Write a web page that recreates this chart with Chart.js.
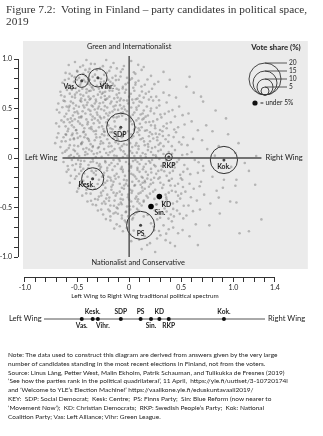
<!DOCTYPE html>
<html>
<head>
<meta charset="utf-8">
<script src="https://cdn.jsdelivr.net/npm/chart.js@4.4.1/dist/chart.umd.min.js"></script>
<style>
  body { margin: 0; background: #fff; }
  #wrap { position: relative; width: 323px; height: 436px; overflow: hidden; }
  #chart { position: absolute; left: 0; top: 0; }
  .title { position: absolute; left: 6px; top: 3px; font: 11.3px/12px "Liberation Serif", serif; color: #333; white-space: nowrap; }
  .note { position: absolute; left: 8px; top: 351px; font: 6.5px/8.8px Lato, sans-serif; color: #222; white-space: nowrap; }
</style>
</head>
<body>
<div id="wrap">
  <canvas id="chart" width="323" height="436"></canvas>
  <div class="title">Figure 7.2:&nbsp; Voting in Finland – party candidates in political space,<br>2019</div>
  <div class="note">
    Note: The data used to construct this diagram are derived from answers given by the very large<br>
    number of candidates standing in the most recent elections in Finland, not from the voters.<br>
    Source: Linus Lång, Petter West, Malin Ekholm, Patrik Schauman, and Tulikukka de Fresnes (2019)<br>
    ‘See how the parties rank in the political quadrilateral’, 11 April,&nbsp; https://yle.fi/uutiset/3-10720174l<br>
    and ‘Welcome to YLE’s Election Machine!’ https://vaalikone.yle.fi/eduskuntavaali2019/<br>
    KEY:&nbsp; SDP: Social Democrat;&nbsp; Kesk: Centre;&nbsp; PS: Finns Party;&nbsp; Sin: Blue Reform (now nearer to<br>
    ‘Movement Now’);&nbsp; KD: Christian Democrats;&nbsp; RKP: Swedish People’s Party;&nbsp; Kok: National<br>
    Coalition Party; Vas: Left Alliance; Vihr: Green League.
  </div>
</div>
<script>
// parties: position on left-right (x) and green/nationalist (y) axes, and vote share in %
const parties   = ['SDP', 'PS', 'Kok.', 'Kesk.', 'Vihr.', 'Vas.', 'RKP', 'KD', 'Sin.'];
const partyX    = [-0.08, 0.11, 0.91, -0.35, -0.30, -0.455, 0.38, 0.29, 0.21];
const partyY    = [0.31, -0.68, -0.02, -0.21, 0.81, 0.78, 0.01, -0.39, -0.49];
const voteShare = [17.7, 17.5, 17.0, 13.8, 11.5, 8.2, 4.5, 3.9, 1.0];
const smallParties = ['KD', 'Sin.'];

// legend sizes
const legendShares = [20, 15, 10, 5];

// axis tick labels
const xLabelValues = [-1, -0.5, 0, 0.5, 1, 1.4];
const xLabelText   = ['-1.0', '-0.5', '0', '0.5', '1.0', '1.4'];
const yLabelValues = [-1, -0.5, 0, 0.5, 1];
const yLabelText   = ['-1.0', '-0.5', '0', '0.5', '1.0'];

// individual candidates
const candidates = [
  [-0.52,0.97],[-0.41,0.99],[-0.33,0.95],[-0.47,0.92],[-0.28,0.91],[-0.15,0.96],[-0.05,0.93],[-0.38,0.90],[-0.58,0.94],[0.02,0.98],[-0.22,0.99],[0.14,0.92],
  [-0.61,0.86],[-0.55,0.83],[-0.50,0.88],[-0.44,0.85],[-0.39,0.87],[-0.35,0.82],[-0.31,0.89],[-0.24,0.84],[-0.19,0.88],[-0.13,0.83],[-0.08,0.87],[-0.02,0.81],[0.06,0.85],[0.12,0.89],[0.21,0.83],[-0.48,0.81],[-0.27,0.80],[-0.58,0.80],[0.33,0.87],[-0.16,0.81],[-0.42,0.89],
  [-0.64,0.76],[-0.59,0.72],[-0.53,0.77],[-0.49,0.73],[-0.45,0.70],[-0.40,0.75],[-0.36,0.72],[-0.33,0.78],[-0.26,0.74],[-0.22,0.71],[-0.18,0.77],[-0.14,0.73],[-0.10,0.79],[-0.06,0.72],[-0.01,0.76],[0.04,0.71],[0.09,0.78],[0.15,0.74],[0.22,0.70],[0.28,0.77],[0.39,0.79],[-0.55,0.70],[-0.29,0.70],[-0.20,0.79],[-0.50,0.79],[0.01,0.79],[-0.38,0.79],[0.55,0.72],
  [-0.66,0.67],[-0.62,0.62],[-0.57,0.65],[-0.52,0.61],[-0.48,0.68],[-0.44,0.63],[-0.41,0.66],[-0.37,0.60],[-0.34,0.69],[-0.30,0.64],[-0.27,0.61],[-0.23,0.67],[-0.19,0.62],[-0.16,0.68],[-0.12,0.64],[-0.08,0.60],[-0.04,0.66],[0.00,0.62],[0.05,0.68],[0.10,0.63],[0.14,0.61],[0.19,0.67],[0.26,0.62],[0.33,0.66],[0.45,0.61],[0.62,0.66],[-0.55,0.69],[-0.46,0.60],[-0.21,0.60],[-0.10,0.69],[0.08,0.60],
  [-0.68,0.55],[-0.63,0.58],[-0.60,0.52],[-0.56,0.57],[-0.51,0.53],[-0.47,0.58],[-0.43,0.51],[-0.40,0.56],[-0.36,0.53],[-0.32,0.59],[-0.29,0.52],[-0.25,0.56],[-0.21,0.51],[-0.17,0.57],[-0.13,0.53],[-0.09,0.58],[-0.05,0.52],[-0.01,0.55],[0.03,0.59],[0.07,0.51],[0.12,0.56],[0.17,0.52],[0.23,0.58],[0.29,0.53],[0.36,0.56],[0.48,0.52],[0.71,0.57],[-0.53,0.50],[-0.38,0.59],[-0.23,0.59],[-0.07,0.50],[0.19,0.59],
  [-0.67,0.46],[-0.62,0.42],[-0.58,0.48],[-0.54,0.43],[-0.50,0.47],[-0.46,0.41],[-0.42,0.45],[-0.39,0.49],[-0.35,0.42],[-0.31,0.46],[-0.27,0.40],[-0.24,0.48],[-0.20,0.43],[-0.16,0.47],[-0.12,0.41],[-0.08,0.45],[-0.04,0.49],[0.01,0.42],[0.05,0.46],[0.09,0.40],[0.14,0.48],[0.18,0.43],[0.24,0.45],[0.31,0.41],[0.38,0.47],[0.44,0.42],[0.57,0.45],[0.83,0.48],[-0.56,0.40],[-0.33,0.49],[-0.14,0.49],[0.11,0.44],
  [-0.70,0.35],[-0.65,0.38],[-0.61,0.32],[-0.57,0.36],[-0.53,0.31],[-0.49,0.37],[-0.45,0.33],[-0.41,0.39],[-0.38,0.30],[-0.34,0.35],[-0.30,0.38],[-0.26,0.32],[-0.22,0.36],[-0.18,0.30],[-0.14,0.37],[-0.03,0.39],[0.03,0.34],[0.07,0.38],[0.12,0.31],[0.16,0.36],[0.21,0.33],[0.27,0.39],[0.33,0.32],[0.40,0.36],[0.47,0.31],[0.60,0.37],[0.74,0.33],[-0.59,0.39],[-0.43,0.30],[0.09,0.30],[0.25,0.30],[-0.29,0.31],
  [-0.68,0.25],[-0.63,0.21],[-0.59,0.27],[-0.55,0.23],[-0.51,0.28],[-0.47,0.22],[-0.44,0.26],[-0.40,0.20],[-0.36,0.29],[-0.32,0.24],[-0.28,0.21],[-0.24,0.27],[-0.20,0.23],[-0.16,0.29],[-0.12,0.21],[-0.06,0.24],[-0.01,0.27],[0.04,0.22],[0.08,0.26],[0.13,0.20],[0.17,0.28],[0.22,0.24],[0.27,0.21],[0.32,0.27],[0.38,0.23],[0.45,0.26],[0.52,0.21],[0.66,0.28],[0.95,0.24],[-0.53,0.20],[-0.09,0.29],[0.19,0.22],
  [-0.71,0.15],[-0.66,0.11],[-0.61,0.17],[-0.57,0.13],[-0.53,0.19],[-0.49,0.12],[-0.45,0.16],[-0.41,0.10],[-0.37,0.14],[-0.33,0.18],[-0.29,0.11],[-0.25,0.15],[-0.21,0.19],[-0.17,0.12],[-0.13,0.16],[-0.09,0.10],[-0.05,0.14],[-0.01,0.18],[0.03,0.11],[0.07,0.15],[0.11,0.19],[0.15,0.13],[0.20,0.17],[0.25,0.11],[0.30,0.15],[0.35,0.19],[0.41,0.12],[0.48,0.16],[0.56,0.13],[0.70,0.18],[0.86,0.12],[-0.39,0.19],[-0.11,0.19],[0.22,0.10],
  [-0.64,0.05],[-0.60,0.08],[-0.56,0.03],[-0.52,0.07],[-0.48,0.02],[-0.44,0.09],[-0.40,0.04],[-0.36,0.07],[-0.32,0.01],[-0.28,0.06],[-0.24,0.09],[-0.20,0.03],[-0.16,0.07],[-0.12,0.02],[-0.08,0.08],[-0.04,0.04],[0.01,0.07],[0.05,0.02],[0.09,0.09],[0.13,0.05],[0.18,0.08],[0.23,0.03],[0.28,0.07],[0.33,0.04],[0.44,0.08],[0.51,0.03],[0.60,0.06],[0.75,0.09],[1.02,0.05],[-0.30,0.10],[0.16,0.01],
  [-0.63,-0.04],[-0.59,-0.08],[-0.55,-0.02],[-0.51,-0.06],[-0.47,-0.09],[-0.43,-0.03],[-0.39,-0.07],[-0.35,-0.01],[-0.31,-0.05],[-0.27,-0.09],[-0.23,-0.03],[-0.19,-0.07],[-0.15,-0.02],[-0.11,-0.06],[-0.07,-0.09],[-0.03,-0.04],[0.02,-0.08],[0.06,-0.02],[0.10,-0.06],[0.14,-0.09],[0.19,-0.03],[0.24,-0.07],[0.29,-0.01],[0.34,-0.05],[0.40,-0.09],[0.46,-0.04],[0.53,-0.07],[0.63,-0.02],[0.71,-0.08],[1.11,-0.05],[0.08,-0.10],[-0.21,-0.10],
  [-0.60,-0.14],[-0.56,-0.18],[-0.52,-0.12],[-0.48,-0.16],[-0.44,-0.11],[-0.40,-0.19],[-0.36,-0.13],[-0.32,-0.17],[-0.28,-0.11],[-0.24,-0.15],[-0.20,-0.19],[-0.16,-0.12],[-0.12,-0.16],[-0.08,-0.11],[-0.04,-0.18],[0.00,-0.13],[0.04,-0.17],[0.08,-0.12],[0.12,-0.19],[0.16,-0.14],[0.21,-0.11],[0.26,-0.16],[0.31,-0.12],[0.36,-0.18],[0.42,-0.13],[0.49,-0.17],[0.56,-0.11],[0.66,-0.15],[0.80,-0.19],[1.15,-0.13],[-0.18,-0.20],[0.24,-0.20],
  [-0.57,-0.25],[-0.52,-0.21],[-0.48,-0.28],[-0.44,-0.23],[-0.40,-0.29],[-0.29,-0.22],[-0.25,-0.27],[-0.21,-0.23],[-0.17,-0.29],[-0.13,-0.21],[-0.09,-0.26],[-0.05,-0.22],[-0.01,-0.28],[0.03,-0.24],[0.07,-0.21],[0.11,-0.27],[0.15,-0.23],[0.19,-0.29],[0.23,-0.25],[0.28,-0.21],[0.33,-0.27],[0.38,-0.23],[0.44,-0.28],[0.51,-0.22],[0.58,-0.26],[0.69,-0.24],[0.91,-0.22],[1.02,-0.28],[0.13,-0.20],[-0.07,-0.30],
  [-0.50,-0.34],[-0.45,-0.38],[-0.41,-0.32],[-0.37,-0.36],[-0.33,-0.31],[-0.29,-0.39],[-0.25,-0.33],[-0.21,-0.37],[-0.17,-0.32],[-0.13,-0.38],[-0.09,-0.34],[-0.05,-0.31],[-0.01,-0.37],[0.03,-0.33],[0.07,-0.39],[0.11,-0.35],[0.15,-0.31],[0.20,-0.36],[0.25,-0.32],[0.35,-0.37],[0.41,-0.33],[0.47,-0.38],[0.54,-0.34],[0.62,-0.31],[0.72,-0.37],[0.84,-0.33],[0.18,-0.40],[-0.19,-0.40],
  [-0.40,-0.44],[-0.35,-0.47],[-0.30,-0.42],[-0.26,-0.46],[-0.22,-0.41],[-0.18,-0.48],[-0.14,-0.43],[-0.10,-0.47],[-0.06,-0.42],[-0.02,-0.49],[0.02,-0.44],[0.06,-0.41],[0.10,-0.46],[0.14,-0.43],[0.26,-0.47],[0.36,-0.42],[0.42,-0.46],[0.49,-0.41],[0.57,-0.48],[0.65,-0.43],[0.78,-0.46],[0.97,-0.44],[0.04,-0.49],[-0.12,-0.50],
  [-0.30,-0.53],[-0.25,-0.57],[-0.20,-0.52],[-0.15,-0.56],[-0.11,-0.51],[-0.07,-0.58],[-0.03,-0.54],[0.01,-0.52],[0.05,-0.57],[0.09,-0.53],[0.14,-0.59],[0.29,-0.55],[0.34,-0.51],[0.40,-0.57],[0.46,-0.53],[0.55,-0.58],[0.68,-0.52],[0.87,-0.56],[-0.18,-0.59],
  [-0.18,-0.63],[-0.12,-0.67],[-0.07,-0.61],[-0.03,-0.65],[0.03,-0.62],[0.21,-0.66],[0.27,-0.62],[0.33,-0.68],[0.41,-0.64],[0.52,-0.61],[0.64,-0.67],[-0.09,-0.69],
  [-0.06,-0.74],[0.01,-0.77],[0.24,-0.73],[0.30,-0.78],[0.38,-0.72],[0.47,-0.76],[0.58,-0.79],[0.15,-0.79],
  [0.02,-0.84],[0.20,-0.86],[0.35,-0.83],[0.12,-0.92],[0.44,-0.89],
  [-0.47,0.74],[-0.42,0.77],[-0.37,0.68],[-0.31,0.73],[-0.25,0.66],[-0.20,0.72],[-0.12,0.70],[-0.03,0.69],[0.06,0.74],
  [-0.52,0.64],[-0.46,0.57],[-0.39,0.62],[-0.33,0.55],[-0.28,0.67],[-0.18,0.55],[-0.11,0.61],[-0.02,0.58],[0.10,0.57],[0.16,0.65],
  [-0.58,0.51],[-0.49,0.45],[-0.44,0.53],[-0.37,0.44],[-0.30,0.50],[-0.22,0.45],[-0.15,0.52],[-0.06,0.46],[0.02,0.51],[0.13,0.45],[0.21,0.50],
  [-0.55,0.33],[-0.48,0.41],[-0.40,0.34],[-0.33,0.40],[-0.24,0.41],[-0.20,0.33],[-0.10,0.42],[0.01,0.40],[0.06,0.31],[0.14,0.40],[0.23,0.37],[0.30,0.44],
  [-0.61,0.24],[-0.50,0.25],[-0.43,0.21],[-0.34,0.27],[-0.26,0.24],[-0.18,0.26],[-0.07,0.21],[0.02,0.24],[0.10,0.28],[0.20,0.26],[0.29,0.24],[0.36,0.30],
  [-0.58,0.10],[-0.46,0.14],[-0.35,0.11],[-0.27,0.17],[-0.19,0.15],[-0.07,0.12],[0.01,0.15],[0.09,0.12],[0.18,0.14],[0.27,0.18],[0.33,0.12],
  [-0.53,0.01],[-0.42,0.06],[-0.34,0.04],[-0.22,0.05],[-0.14,0.09],[-0.06,0.01],[0.03,0.05],[0.11,0.02],[0.21,0.06],[0.26,0.01],[0.38,0.06],
  [-0.49,-0.02],[-0.37,-0.04],[-0.29,-0.08],[-0.17,-0.05],[-0.09,-0.03],[0.00,-0.06],[0.08,-0.04],[0.16,-0.06],[0.22,-0.02],[0.31,-0.08],[0.43,-0.06],
  [-0.46,-0.13],[-0.34,-0.15],[-0.26,-0.19],[-0.14,-0.18],[-0.06,-0.14],[0.02,-0.16],[0.10,-0.14],[0.18,-0.17],[0.28,-0.13],[0.39,-0.15],[0.52,-0.14],
  [-0.23,-0.25],[-0.15,-0.24],[-0.03,-0.26],[0.05,-0.28],[0.13,-0.25],[0.21,-0.22],[0.30,-0.25],[0.41,-0.21],[0.47,-0.26],
  [-0.27,-0.35],[-0.15,-0.35],[-0.07,-0.37],[0.01,-0.32],[0.09,-0.36],[0.13,-0.33],[0.23,-0.34],[0.38,-0.35],[0.50,-0.36],
  [-0.24,-0.44],[-0.08,-0.45],[0.00,-0.42],[0.08,-0.44],[0.12,-0.48],[0.32,-0.44],[0.46,-0.44],
  [-0.13,-0.55],[-0.01,-0.59],[0.07,-0.55],[0.36,-0.54],[0.43,-0.59],
  [1.03,-0.22],[1.21,-0.27],[0.86,-0.40],[1.03,-0.45],[1.27,-0.62],[0.77,-0.68],[1.06,-0.76],[1.15,-0.74],[0.58,0.82],[0.69,0.62],
  [0.93,0.40],[0.80,0.27],[1.05,0.15],[0.98,-0.09],[1.22,0.02],[0.90,-0.30],[0.66,-0.88],[0.25,-0.95],
  [-0.443,0.934],[-0.367,0.951],[-0.252,0.928],[-0.118,0.905],[-0.497,0.873],[-0.214,0.862],[-0.063,0.897],[0.087,0.941],[-0.328,0.842],[-0.571,0.851],[0.046,0.866],[-0.176,0.918],
  [-0.617,0.788],[-0.523,0.817],[-0.462,0.763],[-0.418,0.829],[-0.377,0.741],[-0.296,0.806],[-0.241,0.772],[-0.157,0.751],[-0.083,0.823],[-0.034,0.746],[0.027,0.804],[0.118,0.722],
  [0.176,0.793],[-0.571,0.734],[-0.512,0.706],[-0.352,0.708],[-0.206,0.734],[-0.127,0.787],[0.062,0.762],[0.243,0.746],[-0.437,0.789],[-0.274,0.768],[-0.062,0.702],
  [-0.653,0.634],[-0.597,0.687],[-0.548,0.618],[-0.503,0.662],[-0.467,0.641],[-0.423,0.587],[-0.386,0.677],[-0.341,0.624],[-0.317,0.571],[-0.262,0.648],[-0.226,0.589],[-0.188,0.681],
  [-0.143,0.602],[-0.096,0.657],[-0.052,0.583],[0.016,0.648],[0.064,0.594],[0.123,0.672],[0.211,0.617],[0.287,0.583],[0.384,0.634],[-0.617,0.573],[-0.538,0.554],[-0.282,0.553],
  [-0.118,0.566],[0.041,0.557],[-0.408,0.694],[-0.234,0.627],
  [-0.694,0.487],[-0.641,0.513],[-0.603,0.446],[-0.572,0.527],[-0.523,0.463],[-0.482,0.518],[-0.447,0.472],[-0.408,0.536],[-0.372,0.476],[-0.348,0.521],[-0.304,0.437],[-0.268,0.492],
  [-0.233,0.524],[-0.187,0.458],[-0.151,0.413],[-0.106,0.486],[-0.067,0.427],[-0.021,0.473],[0.036,0.437],[0.072,0.488],[0.158,0.418],[0.206,0.474],[0.264,0.507],[0.342,0.446],
  [0.416,0.484],[0.513,0.433],[-0.458,0.421],[-0.281,0.418],[-0.087,0.534],[0.092,0.527],
  [-0.672,0.318],[-0.627,0.362],[-0.584,0.294],[-0.546,0.374],[-0.508,0.283],[-0.472,0.347],[-0.434,0.268],[-0.396,0.362],[-0.363,0.312],[-0.318,0.274],[-0.284,0.357],[-0.247,0.292],
  [-0.203,0.386],[-0.162,0.261],[-0.134,0.318],[-0.046,0.264],[0.014,0.372],[0.047,0.287],[0.103,0.346],[0.152,0.276],[0.194,0.364],[0.248,0.327],[0.297,0.283],[0.361,0.348],
  [0.433,0.288],[0.532,0.339],[-0.521,0.392],[-0.357,0.387],[0.127,0.389],[-0.236,0.263],
  [-0.693,0.207],[-0.648,0.168],[-0.604,0.234],[-0.567,0.186],[-0.527,0.127],[-0.493,0.203],[-0.458,0.148],[-0.418,0.236],[-0.384,0.172],[-0.348,0.121],[-0.314,0.208],[-0.276,0.143],
  [-0.238,0.228],[-0.197,0.117],[-0.152,0.196],[-0.104,0.143],[-0.068,0.226],[-0.023,0.134],[0.022,0.203],[0.061,0.127],[0.097,0.233],[0.143,0.168],[0.184,0.114],[0.232,0.197],
  [0.283,0.134],[0.324,0.223],[0.376,0.163],[0.427,0.211],[0.503,0.137],[0.614,0.193],[-0.543,0.246],[-0.127,0.248],[0.256,0.246],
  [-0.616,0.064],[-0.577,0.018],[-0.534,0.083],[-0.497,0.043],[-0.463,-0.027],[-0.423,0.031],[-0.384,0.086],[-0.347,-0.036],[-0.308,0.047],[-0.264,0.012],[-0.227,-0.044],[-0.184,0.058],
  [-0.143,0.026],[-0.097,-0.013],[-0.054,0.067],[-0.017,0.022],[0.037,-0.031],[0.074,0.054],[0.118,-0.018],[0.157,0.038],[0.203,-0.047],[0.254,0.027],[0.304,0.082],[0.357,-0.024],
  [0.412,0.043],[0.478,-0.016],[0.557,0.038],[0.667,-0.043],[0.823,0.024],
  [-0.583,-0.117],[-0.543,-0.073],[-0.506,-0.184],[-0.467,-0.062],[-0.432,-0.157],[-0.393,-0.104],[-0.356,-0.213],[-0.318,-0.128],[-0.283,-0.062],[-0.246,-0.174],[-0.212,-0.126],[-0.173,-0.226],
  [-0.138,-0.083],[-0.101,-0.193],[-0.062,-0.117],[-0.024,-0.226],[0.018,-0.097],[0.056,-0.187],[0.093,-0.234],[0.132,-0.113],[0.174,-0.208],[0.213,-0.147],[0.253,-0.084],[0.294,-0.196],
  [0.337,-0.133],[0.386,-0.227],[0.437,-0.096],[0.497,-0.204],[0.587,-0.163],[0.714,-0.127],[-0.462,-0.236],[0.152,-0.246],
  [-0.487,-0.307],[-0.443,-0.268],[-0.412,-0.357],[-0.368,-0.287],[-0.327,-0.414],[-0.302,-0.263],[-0.266,-0.378],[-0.228,-0.302],[-0.193,-0.432],[-0.157,-0.271],[-0.118,-0.356],[-0.082,-0.413],
  [-0.047,-0.278],[-0.012,-0.396],[0.024,-0.352],[0.057,-0.273],[0.086,-0.417],[0.124,-0.297],[0.167,-0.382],[0.206,-0.264],[0.243,-0.413],[0.318,-0.302],[0.356,-0.398],[0.397,-0.278],
  [0.447,-0.342],[0.517,-0.293],[0.593,-0.397],[0.677,-0.286],[-0.366,-0.432],[0.139,-0.443],
  [-0.318,-0.476],[-0.268,-0.521],[-0.227,-0.463],[-0.186,-0.537],[-0.146,-0.482],[-0.108,-0.563],[-0.071,-0.467],[-0.032,-0.548],[0.004,-0.487],[0.038,-0.603],[0.076,-0.514],[0.178,-0.574],
  [0.246,-0.527],[0.297,-0.603],[0.327,-0.473],[0.378,-0.612],[0.423,-0.514],[0.486,-0.564],[0.524,-0.483],[0.613,-0.537],[-0.223,-0.617],[-0.042,-0.632],[0.264,-0.468],
  [-0.143,-0.713],[-0.023,-0.707],[0.044,-0.733],[0.236,-0.692],[0.287,-0.737],[0.356,-0.764],[0.423,-0.703],[0.513,-0.728],[0.097,-0.826],[0.268,-0.813],[0.173,-0.879],[0.394,-0.857]
];

// ---- styling ----
const FONT = 'Lato, "Open Sans", sans-serif';
const INK = '#222';
const LINE = '#4a4a4a';
const BUBBLE_SCALE = 0.8;   // px of radius per % of vote

// party label placement relative to the party's centre, in px
const labelOffset = {
  'SDP':   [-1, 7],
  'PS':    [0, 8],
  'Kok.':  [0, 7],
  'Kesk.': [-6, 6],
  'Vihr.': [9, 9],
  'Vas.':  [-12, 6],
  'RKP':   [0, 9],
  'KD':    [7, 8],
  'Sin.':  [9, 6]
};
// which side of the bottom spectrum line each label goes
const spectrumBelow = ['Vas.', 'Vihr.', 'Sin.', 'RKP'];
const spectrumShift = { 'Vihr.': 5 };

const isSmall = i => smallParties.includes(parties[i]);

// every 0.1 on both axes gets a tick mark
const xTickValues = [];
for (let i = -10; i <= 14; i++) xTickValues.push(i / 10);
const yTickValues = [];
for (let i = -10; i <= 10; i++) yTickValues.push(i / 10);

function labelFor(values, texts, v) {
  const i = values.findIndex(t => Math.abs(t - v) < 1e-6);
  return i >= 0 ? texts[i] : '';
}

function text(ctx, str, x, y, size, opts = {}) {
  ctx.save();
  ctx.font = (opts.bold ? 'bold ' : '') + size + 'px ' + FONT;
  ctx.fillStyle = opts.color || INK;
  ctx.textAlign = opts.align || 'center';
  ctx.textBaseline = 'middle';
  ctx.fillText(str, x, y);
  ctx.restore();
}

function line(ctx, x1, y1, x2, y2, width, color) {
  ctx.save();
  ctx.strokeStyle = color || LINE;
  ctx.lineWidth = width || 1;
  ctx.beginPath();
  ctx.moveTo(x1, y1);
  ctx.lineTo(x2, y2);
  ctx.stroke();
  ctx.restore();
}

const backdrop = {
  id: 'backdrop',
  beforeDraw(chart) {
    const { ctx, chartArea: a } = chart;
    ctx.save();
    ctx.fillStyle = '#ebebeb';
    ctx.fillRect(a.left + 5, a.top, a.right - a.left - 5, a.bottom - a.top - 8);
    ctx.restore();
  },
  beforeDatasetsDraw(chart) {
    const { ctx, chartArea: a } = chart;
    const x = chart.scales.x, y = chart.scales.y;

    // range-frame axis lines
    line(ctx, a.left + 0.5, y.getPixelForValue(1), a.left + 0.5, y.getPixelForValue(-1), 1, '#333');
    line(ctx, x.getPixelForValue(-1), a.bottom + 0.5, x.getPixelForValue(1.4), a.bottom + 0.5, 1, '#333');

    text(ctx, 'Left Wing', x.getPixelForValue(-1.0), y.getPixelForValue(0), 7.6, { align: 'left' });
    text(ctx, 'Right Wing', x.getPixelForValue(1.31), y.getPixelForValue(0), 7.6, { align: 'left' });
    text(ctx, 'Green and Internationalist', x.getPixelForValue(0), a.top + 6, 7.4);
    text(ctx, 'Nationalist and Conservative', x.getPixelForValue(0) + 9, y.getPixelForValue(-1.06), 7.4);
  },
  afterDatasetsDraw(chart) {
    const { ctx, chartArea: a } = chart;
    const x = chart.scales.x, y = chart.scales.y;

    // the two issue dimensions crossing at the origin
    const y0 = y.getPixelForValue(0), x0 = x.getPixelForValue(0);
    line(ctx, x.getPixelForValue(-0.64), y0, x.getPixelForValue(1.27), y0, 1.4);
    line(ctx, x0, y.getPixelForValue(1.03), x0, y.getPixelForValue(-1), 1.4);

    // party names next to their positions
    parties.forEach((p, i) => {
      const [dx, dy] = labelOffset[p];
      text(ctx, p, x.getPixelForValue(partyX[i]) + dx, y.getPixelForValue(partyY[i]) + dy, 6.8, { bold: true });
    });

    // vote share key: nested circles resting on a common base
    const cx = 265, base = 95;
    text(ctx, 'Vote share (%)', 276, a.top + 6, 7.8, { bold: true });
    ctx.save();
    ctx.strokeStyle = '#333';
    ctx.lineWidth = 0.9;
    legendShares.forEach(s => {
      const r = s * BUBBLE_SCALE;
      ctx.beginPath();
      ctx.arc(cx, base - r, r, 0, Math.PI * 2);
      ctx.stroke();
      line(ctx, cx, base - 2 * r, 287, base - 2 * r, 0.8, '#333');
      text(ctx, String(s), 289, base - 2 * r, 6.6, { align: 'left' });
    });
    ctx.fillStyle = '#111';
    ctx.beginPath();
    ctx.arc(255, 103, 2.6, 0, Math.PI * 2);
    ctx.fill();
    ctx.restore();
    text(ctx, '= under 5%', 260, 103, 6.6, { align: 'left' });

    // x axis title
    text(ctx, 'Left Wing to Right Wing traditional political spectrum', 145, 296, 6.3);

    // one-dimensional left-right spectrum
    const sy = 319;
    text(ctx, 'Left Wing', 9, sy, 7.6, { align: 'left' });
    text(ctx, 'Right Wing', 268, sy, 7.6, { align: 'left' });
    line(ctx, 44, sy, 265, sy, 1, '#555');
    ctx.save();
    ctx.fillStyle = '#111';
    parties.forEach((p, i) => {
      const px = x.getPixelForValue(partyX[i]);
      ctx.beginPath();
      ctx.arc(px, sy, 2, 0, Math.PI * 2);
      ctx.fill();
      const below = spectrumBelow.includes(p);
      text(ctx, p, px + (spectrumShift[p] || 0), below ? sy + 7 : sy - 7, 6.6, { bold: true });
    });
    ctx.restore();
  }
};

const ctx = document.getElementById('chart').getContext('2d');

new Chart(ctx, {
  type: 'scatter',
  data: {
    datasets: [
      {
        label: 'Party',
        data: parties.map((p, i) => ({ x: partyX[i], y: partyY[i] })),
        pointRadius: c => isSmall(c.dataIndex) ? 2.8 : 1.5,
        pointBackgroundColor: c => isSmall(c.dataIndex) ? '#000' : '#444',
        pointBorderWidth: 0,
        order: 1
      },
      {
        type: 'bubble',
        label: 'Vote share',
        data: parties.map((p, i) => ({ x: partyX[i], y: partyY[i], r: voteShare[i] * BUBBLE_SCALE }))
          .filter((d, i) => !isSmall(i)),
        backgroundColor: 'rgba(0,0,0,0)',
        borderColor: '#333',
        borderWidth: 1,
        order: 2
      },
      {
        label: 'Candidates',
        data: candidates.map(([cx, cy]) => ({ x: cx, y: cy })),
        pointRadius: 1.3,
        pointBackgroundColor: 'rgba(105,105,105,0.42)',
        pointBorderWidth: 0,
        order: 3
      }
    ]
  },
  options: {
    responsive: false,
    animation: false,
    events: [],
    layout: { padding: { top: 41, right: 14, bottom: 139, left: 0 } },
    plugins: { legend: { display: false }, tooltip: { enabled: false } },
    scales: {
      x: {
        type: 'linear',
        min: -1.067,
        max: 1.7156,
        afterFit: s => { s.height = 20; },
        afterBuildTicks: s => { s.ticks = xTickValues.map(v => ({ value: v })); },
        border: { display: false },
        grid: { drawOnChartArea: false, drawTicks: true, tickLength: 5, color: '#333', lineWidth: 1 },
        ticks: {
          autoSkip: false, maxRotation: 0, minRotation: 0, padding: 2,
          color: INK, font: { family: FONT, size: 7 },
          callback: v => labelFor(xLabelValues, xLabelText, v)
        }
      },
      y: {
        type: 'linear',
        min: -1.202,
        max: 1.182,
        afterFit: s => { s.width = 18; },
        afterBuildTicks: s => { s.ticks = yTickValues.map(v => ({ value: v })); },
        border: { display: false },
        grid: { drawOnChartArea: false, drawTicks: true, tickLength: 4, color: '#333', lineWidth: 1 },
        ticks: {
          autoSkip: false, padding: 2,
          color: INK, font: { family: FONT, size: 7 },
          callback: v => labelFor(yLabelValues, yLabelText, v)
        }
      }
    }
  },
  plugins: [backdrop]
});
</script>
</body>
</html>
